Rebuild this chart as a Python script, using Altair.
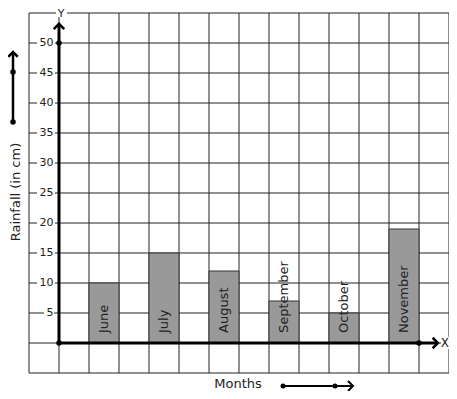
import altair as alt
import pandas as pd

# ---- data ----
months = ["June", "July", "August", "September", "October", "November"]
rainfall = [10, 15, 12, 7, 5, 19]
y_tick_values = [5, 10, 15, 20, 25, 30, 35, 40, 45, 50]
x_grid = list(range(-1, 14))
y_grid = list(range(-5, 56, 5))

FONT = "DejaVu Sans"
INK = "#222222"

xs = alt.Scale(domain=[-1, 13], nice=False, zero=False)
ys = alt.Scale(domain=[-5, 55], nice=False, zero=False)

bars_df = pd.DataFrame({"month": months, "rain": rainfall})
bars_df["x0"] = [2 * i + 1 for i in range(len(months))]
bars_df["x1"] = bars_df["x0"] + 1
bars_df["xc"] = bars_df["x0"] + 0.5

ticks_df = pd.DataFrame({"v": y_tick_values, "label": [str(v) for v in y_tick_values]})
ticks_df["y0"] = ticks_df["v"] - 1.2
ticks_df["y1"] = ticks_df["v"] + 1.2
ticks_df["n"] = ticks_df["label"].str.len()

# grid
vgrid = alt.Chart(pd.DataFrame({"g": x_grid})).mark_rule(color=INK, strokeWidth=1).encode(
    x=alt.X("g:Q", scale=xs, axis=None), y=alt.value(0), y2=alt.value(360))
hgrid = alt.Chart(pd.DataFrame({"g": y_grid})).mark_rule(color=INK, strokeWidth=1).encode(
    y=alt.Y("g:Q", scale=ys, axis=None), x=alt.value(0), x2=alt.value(420))

# white backgrounds behind y labels
bg2 = alt.Chart(ticks_df).transform_filter("datum.n == 2").mark_rect(color="white").encode(
    x=alt.value(8), x2=alt.value(26),
    y=alt.Y("y0:Q", scale=ys, axis=None), y2="y1:Q")
bg1 = alt.Chart(ticks_df).transform_filter("datum.n == 1").mark_rect(color="white").encode(
    x=alt.value(15), x2=alt.value(25),
    y=alt.Y("y0:Q", scale=ys, axis=None), y2="y1:Q")

ylabels = alt.Chart(ticks_df).mark_text(
    align="right", baseline="middle", fontSize=11, font=FONT, color=INK).encode(
    x=alt.value(24.5), y=alt.Y("v:Q", scale=ys, axis=None), text="label:N")

bars = alt.Chart(bars_df).mark_bar(color="#999999", stroke="#333333", strokeWidth=1).encode(
    x=alt.X("x0:Q", scale=xs, axis=None), x2="x1:Q",
    y=alt.Y("rain:Q", scale=ys, axis=None), y2=alt.datum(0))

bar_labels = alt.Chart(bars_df).mark_text(
    angle=270, align="left", baseline="middle", fontSize=13, font=FONT, color=INK).encode(
    x=alt.X("xc:Q", scale=xs, axis=None), y=alt.value(320), text="month:N")

# axes lines
axes_df = pd.DataFrame({"x": [0, 0], "y": [0, 0], "x2": [0, 12.63], "y2": [53.2, 0]})
axes = alt.Chart(axes_df).mark_rule(color="black", strokeWidth=3).encode(
    x=alt.X("x:Q", scale=xs, axis=None), x2="x2:Q",
    y=alt.Y("y:Q", scale=ys, axis=None), y2="y2:Q")

dots_df = pd.DataFrame({"x": [0, 0, 12], "y": [0, 50, 0]})
dots = alt.Chart(dots_df).mark_circle(color="black", size=30, opacity=1).encode(
    x=alt.X("x:Q", scale=xs, axis=None), y=alt.Y("y:Q", scale=ys, axis=None))

up_head = alt.Chart(pd.DataFrame({"x": [0], "y": [53.2]})).mark_point(
    shape="M-1,1L0,0L1,1", filled=False, color="black", strokeWidth=2.5, size=110, opacity=1).encode(
    x=alt.X("x:Q", scale=xs, axis=None), y=alt.Y("y:Q", scale=ys, axis=None))
right_head = alt.Chart(pd.DataFrame({"x": [12.63], "y": [0]})).mark_point(
    shape="M-1,-1L0,0L-1,1", filled=False, color="black", strokeWidth=2.5, size=110, opacity=1).encode(
    x=alt.X("x:Q", scale=xs, axis=None), y=alt.Y("y:Q", scale=ys, axis=None))

# axis letters with white backgrounds
y_bg = alt.Chart(pd.DataFrame({"a": [0]})).mark_rect(color="white").encode(
    x=alt.value(27), x2=alt.value(38), y=alt.value(-4), y2=alt.value(4))
y_letter = alt.Chart(pd.DataFrame({"t": ["Y"]})).mark_text(
    fontSize=11, font=FONT, color=INK, baseline="middle", align="center").encode(
    x=alt.value(32), y=alt.value(0.5), text="t:N")
x_bg = alt.Chart(pd.DataFrame({"a": [0]})).mark_rect(color="white").encode(
    x=alt.value(412), x2=alt.value(421), y=alt.value(324), y2=alt.value(336))
x_letter = alt.Chart(pd.DataFrame({"t": ["X"]})).mark_text(
    fontSize=12, font=FONT, color=INK, baseline="middle", align="right").encode(
    x=alt.value(420), y=alt.value(330), text="t:N")

# outside titles and decorative arrows
ytitle = alt.Chart(pd.DataFrame({"t": ["Rainfall (in cm)"]})).mark_text(
    fontSize=13, font=FONT, color=INK, angle=270, baseline="middle", align="center").encode(
    x=alt.value(-13), y=alt.value(179), text="t:N")
xtitle = alt.Chart(pd.DataFrame({"t": ["Months"]})).mark_text(
    fontSize=13, font=FONT, color=INK, baseline="middle", align="center").encode(
    x=alt.value(209), y=alt.value(371), text="t:N")

left_line = alt.Chart(pd.DataFrame({"a": [0]})).mark_rule(color="black", strokeWidth=2.5).encode(
    x=alt.value(-16), y=alt.value(109), y2=alt.value(40))
left_dots = alt.Chart(pd.DataFrame({"py": [109, 59]})).mark_circle(color="black", size=30, opacity=1).encode(
    x=alt.value(-16), y=alt.Y("py:Q", scale=None))
left_head = alt.Chart(pd.DataFrame({"a": [0]})).mark_point(
    shape="M-1,1L0,0L1,1", filled=False, color="black", strokeWidth=2.5, size=90, opacity=1).encode(
    x=alt.value(-16), y=alt.value(39))

bot_line = alt.Chart(pd.DataFrame({"a": [0]})).mark_rule(color="black", strokeWidth=2).encode(
    y=alt.value(373), x=alt.value(254), x2=alt.value(323))
bot_dots = alt.Chart(pd.DataFrame({"px": [254, 306]})).mark_circle(color="black", size=25, opacity=1).encode(
    y=alt.value(373), x=alt.X("px:Q", scale=None))
bot_head = alt.Chart(pd.DataFrame({"a": [0]})).mark_point(
    shape="M-1,-1L0,0L-1,1", filled=False, color="black", strokeWidth=2, size=100, opacity=1).encode(
    y=alt.value(373), x=alt.value(324))

chart = alt.layer(
    vgrid, hgrid, bg2, bg1, ylabels, bars, bar_labels, axes, dots, up_head, right_head,
    y_bg, y_letter, x_bg, x_letter, ytitle, xtitle,
    left_line, left_dots, left_head, bot_line, bot_dots, bot_head,
).properties(
    width=420, height=360,
    padding={"left": 21, "top": 5, "right": 0, "bottom": 18},
    autosize="none",
).configure_view(stroke=None).resolve_scale(x="independent", y="independent")

chart.save("out.html", embed_options={"renderer": "svg", "actions": False})
